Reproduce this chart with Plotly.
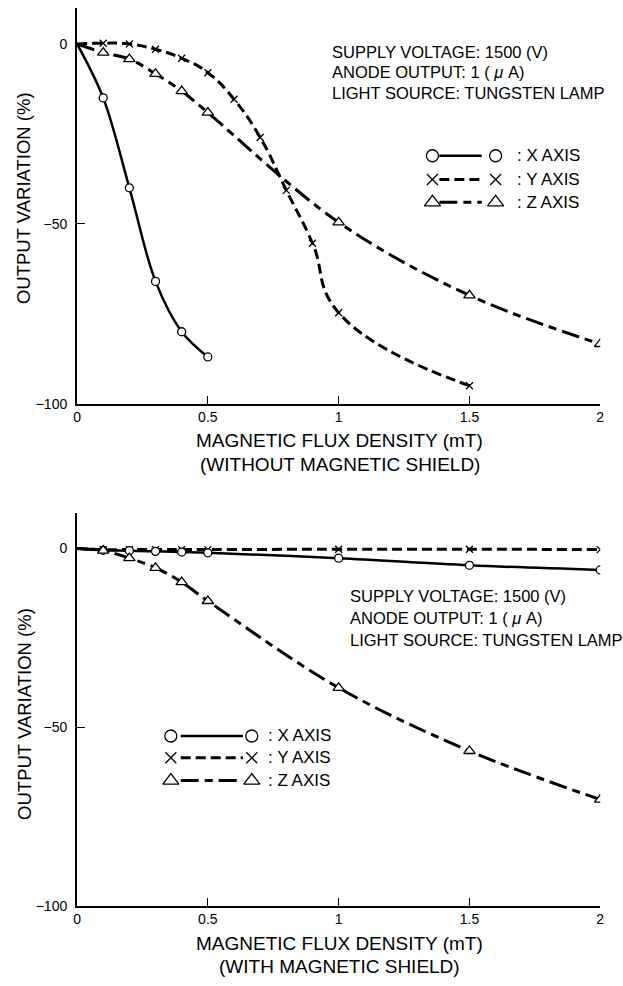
import plotly.graph_objects as go

# ---------------- data ----------------
# Top chart: without magnetic shield
top_x_axis_b = [0.1, 0.2, 0.3, 0.4, 0.5]
top_x_axis_v = [-15, -40, -66, -80, -87]

top_y_axis_b = [0.1, 0.2, 0.3, 0.4, 0.5, 0.6, 0.7, 0.8, 0.9, 1.0, 1.5]
top_y_axis_v = [0.2, 0, -1.5, -4, -8, -15.4, -26, -40.7, -55.4, -74.7, -95]

top_z_axis_b = [0.1, 0.2, 0.3, 0.4, 0.5, 1.0, 1.5, 2.0]
top_z_axis_v = [-2.4, -4.2, -8.3, -13.1, -19.1, -49.6, -69.9, -83.4]

# Bottom chart: with magnetic shield
bot_x_axis_b = [0.1, 0.2, 0.3, 0.4, 0.5, 1.0, 1.5, 2.0]
bot_x_axis_v = [-0.5, -0.6, -0.8, -1.0, -1.2, -2.7, -4.7, -6.0]

bot_y_axis_b = [0.1, 0.2, 0.3, 0.4, 0.5, 1.0, 1.5, 2.0]
bot_y_axis_v = [-0.3, -0.3, -0.3, -0.3, -0.3, -0.2, -0.2, -0.3]

bot_z_axis_b = [0.1, 0.2, 0.3, 0.4, 0.5, 1.0, 1.5, 2.0]
bot_z_axis_v = [-0.6, -2.7, -5.4, -9.4, -14.7, -39, -56.7, -70.3]

origin_b = [0]
origin_v = [0]

x_ticks = [0, 0.5, 1, 1.5, 2]
x_tick_labels = ["0", "0.5", "1", "1.5", "2"]
y_ticks = [0, -50, -100]
y_tick_labels = ["0", "\u221250", "\u2212100"]

series_names = ["X AXIS", "Y AXIS", "Z AXIS"]
info_lines = ["SUPPLY VOLTAGE: 1500 (V)",
              "ANODE OUTPUT: 1 ( <i>\u03bc</i> A)",
              "LIGHT SOURCE: TUNGSTEN LAMP"]

# ---------------- style ----------------
W, H = 623, 986
FONT = "Liberation Sans, Arial, Helvetica, sans-serif"
BLACK = "black"
Z_DASH = "18px,6px,8px,6px"
styles = {
    "X AXIS": dict(dash="solid", symbol="circle", size=8, lw=2.5, smooth=1.0),
    "Y AXIS": dict(dash="10px,5px", symbol="x-thin", size=7, lw=3, smooth=1.3),
    "Z AXIS": dict(dash=Z_DASH, symbol="triangle-up", size=10, lw=3, smooth=1.0),
}

fig = go.Figure()


def add_series(name, xs, ys, xa, ya):
    st = styles[name]
    fig.add_trace(go.Scatter(
        x=origin_b + xs, y=origin_v + ys, mode="lines",
        line=dict(color=BLACK, width=st["lw"], dash=st["dash"], shape="spline",
                  smoothing=st["smooth"]),
        xaxis=xa, yaxis=ya, hoverinfo="skip"))
    fig.add_trace(go.Scatter(
        x=xs, y=ys, mode="markers",
        marker=dict(symbol=st["symbol"], size=st["size"], color="white",
                    line=dict(color=BLACK, width=1.3)),
        xaxis=xa, yaxis=ya, name=name))


add_series("X AXIS", top_x_axis_b, top_x_axis_v, "x", "y")
add_series("Y AXIS", top_y_axis_b, top_y_axis_v, "x", "y")
add_series("Z AXIS", top_z_axis_b, top_z_axis_v, "x", "y")

add_series("Y AXIS", bot_y_axis_b, bot_y_axis_v, "x2", "y2")
add_series("X AXIS", bot_x_axis_b, bot_x_axis_v, "x2", "y2")
add_series("Z AXIS", bot_z_axis_b, bot_z_axis_v, "x2", "y2")

# ---------------- custom legends (pixel layout on hidden axes) ----------------
legend_layouts = [
    # rows y, left marker x, line x0, line x1, right marker x, text x
    dict(rows=[157, 181, 204], mk_l=434, l0=441, l1=484, mk_r=498, tx=518),
    dict(rows=[742, 764, 787], mk_l=169, l0=179, l1=242, mk_r=251, tx=265),
]
for lay in legend_layouts:
    for name, ry in zip(series_names, lay["rows"]):
        st = styles[name]
        fig.add_trace(go.Scatter(
            x=[lay["l0"], lay["l1"]], y=[ry, ry], mode="lines",
            line=dict(color=BLACK, width=st["lw"], dash=st["dash"]),
            xaxis="x3", yaxis="y3", hoverinfo="skip"))
        fig.add_trace(go.Scatter(
            x=[lay["mk_l"], lay["mk_r"]], y=[ry, ry], mode="markers",
            marker=dict(symbol=st["symbol"], size=st["size"] + 4, color="white",
                        line=dict(color=BLACK, width=1.3)),
            xaxis="x3", yaxis="y3", hoverinfo="skip"))
        fig.add_annotation(x=lay["tx"], y=ry, xref="x3", yref="y3", text=": " + name,
                           showarrow=False, xanchor="left", yanchor="middle",
                           font=dict(family=FONT, size=17, color=BLACK))

# ---------------- axes ----------------
x_dom = [74 / W, 604 / W]
top_dom = [1 - 407 / H, 1 - 8 / H]
bot_dom = [1 - 913 / H, 1 - 517 / H]

axis_common = dict(showline=True, linewidth=2, linecolor=BLACK, showgrid=False,
                   zeroline=False, ticks="inside", ticklen=8, tickwidth=1,
                   tickcolor=BLACK, tickfont=dict(family=FONT, size=14, color=BLACK))
xcommon = dict(axis_common, range=[0, 2], tickvals=x_ticks, ticktext=x_tick_labels)
ycommon = dict(axis_common, range=[-100, 10], tickvals=y_ticks, ticktext=y_tick_labels,
               ticklabelstandoff=5)

fig.update_layout(
    width=W, height=H,
    margin=dict(l=0, r=0, t=0, b=0),
    paper_bgcolor="white", plot_bgcolor="rgba(0,0,0,0)",
    showlegend=False,
    font=dict(family=FONT, color=BLACK),
    xaxis=dict(xcommon, domain=x_dom, anchor="y"),
    yaxis=dict(ycommon, domain=top_dom, anchor="x"),
    xaxis2=dict(xcommon, domain=x_dom, anchor="y2"),
    yaxis2=dict(ycommon, domain=bot_dom, anchor="x2"),
    xaxis3=dict(domain=[0, 1], range=[0, W], visible=False, anchor="y3"),
    yaxis3=dict(domain=[0, 1], range=[H, 0], visible=False, anchor="x3"),
)

# ---------------- titles & info text ----------------
def ann(text, px, py, size=19, angle=0, xanchor="center"):
    fig.add_annotation(x=px / W, y=1 - py / H, xref="paper", yref="paper", text=text,
                       showarrow=False, textangle=angle, xanchor=xanchor, yanchor="middle",
                       font=dict(family=FONT, size=size, color=BLACK))

ann("OUTPUT VARIATION (%)", 20, 200, size=18.5, angle=-90)
ann("OUTPUT VARIATION (%)", 20, 720, size=18.5, angle=-90)
ann("MAGNETIC FLUX DENSITY (mT)", 340, 444)
ann("(WITHOUT MAGNETIC SHIELD)", 340, 468)
ann("MAGNETIC FLUX DENSITY (mT)", 340, 951)
ann("(WITH MAGNETIC SHIELD)", 340, 974)

for i, line in enumerate(info_lines):
    ann(line, 330, 52 + 21 * i, size=16.5, xanchor="left")
    ann(line, 348, 601 + 22 * i, size=16.5, xanchor="left")

fig.write_html(
    "out.html",
    config={"displayModeBar": False},
    post_script=("document.body.style.margin='0px';"
                 "document.body.style.overflow='hidden';"
                 "document.documentElement.style.overflow='hidden';"),
)
